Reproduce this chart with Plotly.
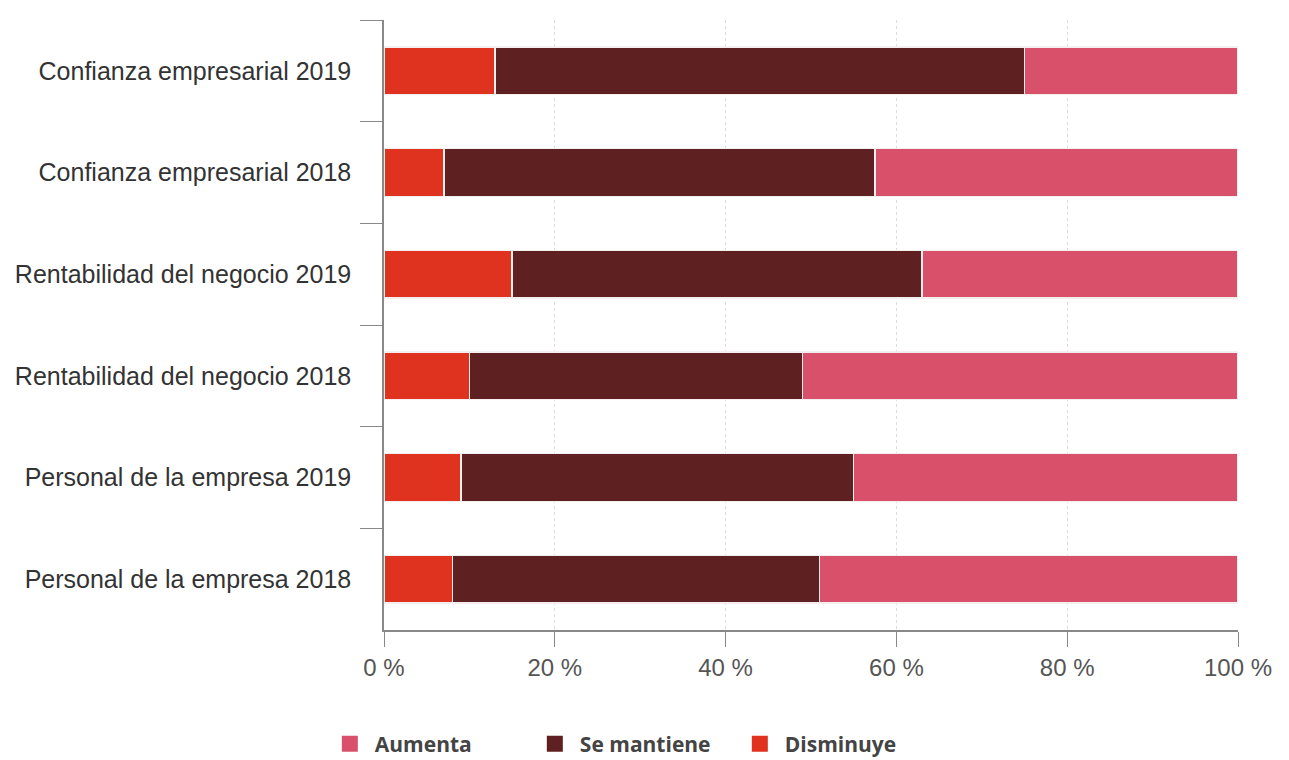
import plotly.graph_objects as go

categories = [
    "Confianza empresarial 2019",
    "Confianza empresarial 2018",
    "Rentabilidad del negocio 2019",
    "Rentabilidad del negocio 2018",
    "Personal de la empresa 2019",
    "Personal de la empresa 2018",
]
disminuye = [13, 7, 15, 10, 9, 8]
se_mantiene = [62, 50.5, 48, 39, 46, 43]
aumenta = [25, 42.5, 37, 51, 45, 49]

x_ticks = [0, 20, 40, 60, 80, 100]

colors = {
    "Disminuye": "#E0331F",
    "Se mantiene": "#5E2020",
    "Aumenta": "#D9506A",
}
series = [("Disminuye", disminuye), ("Se mantiene", se_mantiene), ("Aumenta", aumenta)]

fig = go.Figure()
for name, vals in series:
    fig.add_trace(go.Bar(
        y=categories, x=vals, name=name, orientation="h",
        legendgroup=name, showlegend=False,
        marker=dict(color=colors[name], line=dict(color="#f4eeee", width=1.5)),
        hovertemplate="%{y}: %{x}%<extra>" + name + "</extra>",
    ))
# legend entries with large square swatches
for name, _ in series:
    fig.add_trace(go.Scatter(
        x=[None], y=[None], mode="markers", name=name, legendgroup=name,
        marker=dict(symbol="square", size=16, color=colors[name]),
        showlegend=True, hoverinfo="skip",
    ))

fig.update_layout(
    barmode="stack",
    bargap=0.53,
    width=1289, height=760,
    margin=dict(l=384, r=51, t=20, b=130),
    paper_bgcolor="white", plot_bgcolor="white",
    font=dict(family="Liberation Sans, Arial, sans-serif", color="#333"),
    legend=dict(
        orientation="h", traceorder="reversed",
        xref="container", yref="container",
        x=0.252, xanchor="left", y=0.021, yanchor="middle",
        font=dict(family="Open Sans, sans-serif", size=21, color="#444", weight="bold"),
        itemwidth=40, tracegroupgap=0,
        entrywidth=150, entrywidthmode="pixels",
    ),
    showlegend=True,
)
fig.update_xaxes(
    range=[0, 100], tickvals=x_ticks, ticktext=[f"{v} %" for v in x_ticks],
    showgrid=True, gridcolor="#dcdcdc", griddash="dot", gridwidth=1,
    showline=True, linecolor="#888", linewidth=1.5,
    ticks="outside", ticklen=15, tickcolor="#888", tickwidth=1,
    tickfont=dict(size=24, color="#555"), zeroline=False, fixedrange=True,
)
fig.update_yaxes(
    categoryorder="array", categoryarray=categories, autorange="reversed",
    showline=True, linecolor="#888", linewidth=1.5,
    ticks="outside", tickson="boundaries", ticklen=22, tickcolor="#888", tickwidth=1,
    tickfont=dict(size=25, color="#333"), ticklabelstandoff=26, showgrid=False,
    fixedrange=True,
)

fig.write_html("out.html")
